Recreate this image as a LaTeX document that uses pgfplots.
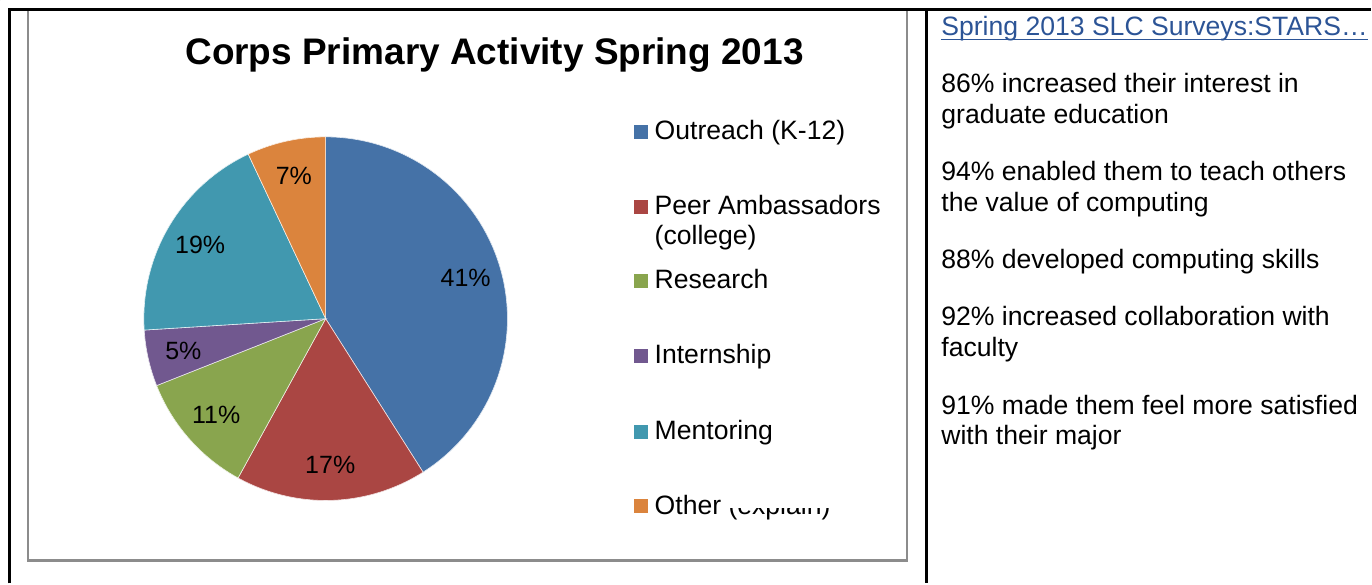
\documentclass[border=0pt]{standalone}
\usepackage{pgfplots}
\pgfplotsset{compat=1.18}
\usepackage{pgfplotstable}
\usepackage{fontspec}
\setmainfont{Liberation Sans}
\definecolor{pie0}{HTML}{4572A7}
\definecolor{pie1}{HTML}{AA4643}
\definecolor{pie2}{HTML}{89A54E}
\definecolor{pie3}{HTML}{71588F}
\definecolor{pie4}{HTML}{4198AF}
\definecolor{pie5}{HTML}{DB843D}
\definecolor{linkblue}{RGB}{44,84,150}
\definecolor{boxgray}{RGB}{140,140,140}
\pgfplotstableread{
label value
Outreach 41
Peer 17
Research 11
Internship 5
Mentoring 19
Other 7
}\piedata
\tikzset{txt/.style={anchor=base west,inner sep=0pt,font=\fontsize{13.3}{15}\selectfont}}
\begin{document}
\begin{tikzpicture}
\begin{axis}[width=686pt,height=292pt,scale only axis,
  xmin=0,xmax=1372,ymin=0,ymax=584,y dir=reverse,hide axis,clip=false]
\path (axis cs:0,0) rectangle (axis cs:1372,584);
\fill[white!97!black] (axis cs:0,0) rectangle (axis cs:0.6,0.6);
% frames
\draw[boxgray,line width=1.2pt] (axis cs:28,10) rectangle (axis cs:908,561);
\draw[black,line width=1.5pt] (axis cs:10,584) -- (axis cs:10,10) -- (axis cs:1372,10);
\draw[black,line width=1.5pt] (axis cs:927,10) -- (axis cs:927,584);
% pie
\def\cum{0}
\pgfplotsforeachungrouped \i in {0,...,5}{%
  \pgfplotstablegetelem{\i}{value}\of\piedata
  \let\v=\pgfplotsretval
  \pgfmathsetmacro\a{90-3.6*\cum}%
  \pgfmathsetmacro\newcum{\cum+\v}%
  \pgfmathsetmacro\b{90-3.6*\newcum}%
  \let\cum=\newcum
  \pgfmathsetmacro\m{(\a+\b)/2}%
  \pgfmathsetmacro\lx{326+146*cos(\m)}%
  \pgfmathsetmacro\ly{319-146*sin(\m)}%
  \pgfmathtruncatemacro\vi{\v}%
  \edef\doplot{\noexpand\addplot[fill=pie\i,draw=white!85!pie\i,line width=0.3pt,domain=\b:\a,samples=120,variable=\noexpand\t]
     ({326+182*cos(\noexpand\t)},{319-182*sin(\noexpand\t)}) -- (axis cs:326,319) -- cycle;
     \noexpand\node[font=\noexpand\fontsize{12.5}{14}\noexpand\selectfont] at (axis cs:\lx,\ly) {\vi\%};}%
  \doplot
}
% title
\node[font=\fontsize{18.5}{21}\selectfont\bfseries,anchor=base] at (axis cs:495,65) {Corps Primary Activity Spring 2013};
% legend
\fill[pie0] (axis cs:635,125) rectangle (axis cs:649,139);
\node[txt] at (axis cs:655,140) {Outreach (K-12)};
\fill[pie1] (axis cs:635,200) rectangle (axis cs:649,214);
\node[txt] at (axis cs:655,215) {Peer Ambassadors};
\node[txt] at (axis cs:655,245) {(college)};
\fill[pie2] (axis cs:635,274) rectangle (axis cs:649,288);
\node[txt] at (axis cs:655,289) {Research};
\fill[pie3] (axis cs:635,349) rectangle (axis cs:649,363);
\node[txt] at (axis cs:655,364) {Internship};
\fill[pie4] (axis cs:635,425) rectangle (axis cs:649,439);
\node[txt] at (axis cs:655,440) {Mentoring};
\fill[pie5] (axis cs:635,500) rectangle (axis cs:649,514);
\node[txt] at (axis cs:655,515) {Other (explain)};
\fill[white] (axis cs:725,490) rectangle (axis cs:845,508.5);
% right cell
\node[txt,text=linkblue] (lk) at (axis cs:942,36) {Spring 2013 SLC Surveys:STARS…};
\draw[linkblue,line width=0.7pt] ([yshift=-1.8pt]lk.base west) -- ([yshift=-1.8pt]lk.base east);
\node[txt] at (axis cs:942,93) {86\% increased their interest in};
\node[txt] at (axis cs:942,124) {graduate education};
\node[txt] at (axis cs:942,181) {94\% enabled them to teach others};
\node[txt] at (axis cs:942,212) {the value of computing};
\node[txt] at (axis cs:942,269) {88\% developed computing skills};
\node[txt] at (axis cs:942,326) {92\% increased collaboration with};
\node[txt] at (axis cs:942,357) {faculty};
\node[txt] at (axis cs:942,415) {91\% made them feel more satisfied};
\node[txt] at (axis cs:942,445) {with their major};
\end{axis}
\end{tikzpicture}
\end{document}
